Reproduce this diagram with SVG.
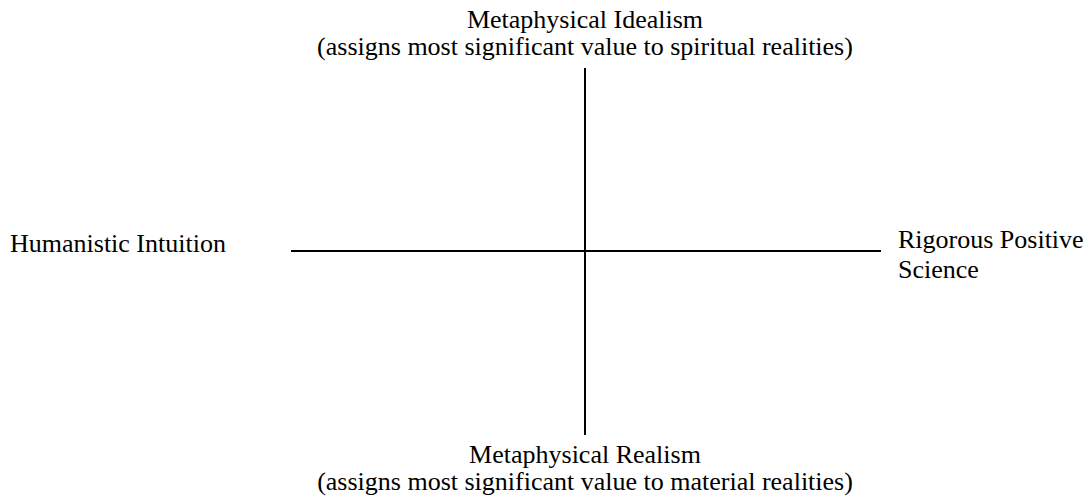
<svg xmlns="http://www.w3.org/2000/svg" width="1091" height="497" viewBox="0 0 1091 497">
<rect width="1091" height="497" fill="#fff"/>
<g id="connectors" stroke="#000" stroke-width="2" fill="none">
<line x1="585" y1="68" x2="585" y2="435"/>
<line x1="291" y1="251" x2="881" y2="251"/>
</g>
<g id="top" text-anchor="middle"><text font-family="Liberation Serif" font-size="26" x="585" y="28">Metaphysical Idealism</text><text font-family="Liberation Serif" font-size="26" x="585" y="55">(assigns most significant value to spiritual realities)</text></g>
<g id="left"><text font-family="Liberation Serif" font-size="26" x="10" y="252">Humanistic Intuition</text></g>
<g id="right"><text font-family="Liberation Serif" font-size="26" x="898" y="248">Rigorous Positive</text><text font-family="Liberation Serif" font-size="26" x="898" y="278">Science</text></g>
<g id="bottom" text-anchor="middle"><text font-family="Liberation Serif" font-size="26" x="585" y="463">Metaphysical Realism</text><text font-family="Liberation Serif" font-size="26" x="585" y="490">(assigns most significant value to material realities)</text></g>
</svg>
